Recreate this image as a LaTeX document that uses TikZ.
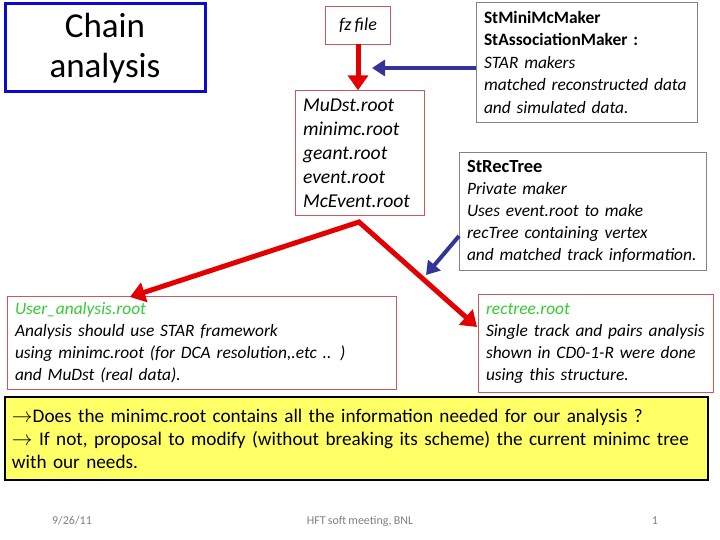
\documentclass[tikz,border=0pt]{standalone}
\usepackage{fontspec}
\setmainfont[WordSpace=0.8]{Carlito}
\usepackage{amsmath, amssymb}
\usepackage{tikz}
\usetikzlibrary{arrows.meta}
\definecolor{bred}{RGB}{200,90,90}
\definecolor{rred}{RGB}{228,0,0}
\definecolor{bblue}{RGB}{10,10,210}
\definecolor{dblue}{RGB}{51,51,153}
\definecolor{bgray}{RGB}{128,128,150}
\definecolor{tgreen}{RGB}{51,204,51}
\definecolor{yfill}{RGB}{255,255,102}

\begin{document}
\begin{tikzpicture}[x=1pt, y=-1pt,
         titlebox/.style={
         % The shape:
         rectangle,
         % The border
         line width=3pt, draw=bblue,
         % Font
         font=\fontsize{35}{40}\selectfont, align=center},
         filebox/.style={
         rectangle, draw=bred, thin, fill=white,
         align=left, inner xsep=8pt, inner ysep=0pt,
         font=\itshape\fontsize{17.4}{22}\selectfont},
         makerbox/.style={filebox, draw=bgray},
         notebox/.style={
         rectangle, line width=2.5pt, draw=black, fill=yfill,
         align=left, inner xsep=7pt, inner ysep=0pt,
         font=\fontsize{19.2}{23}\selectfont},
         foot/.style={text=gray, font=\fontsize{12}{14}\selectfont},
         redarrow/.style={draw=rred, line width=5pt, line join=miter},
         bluearrow/.style={draw=dblue, line width=4pt,
         -{Triangle[width=16pt,length=13pt]}}]
   \useasboundingbox (0,0) rectangle (720,540);

   % Title
   \node[titlebox, minimum width=200pt, minimum height=88pt] (title) at (105,48) {Chain\\analysis};

   % Files
   \node[filebox, minimum width=65pt, minimum height=38pt, align=center,
         font=\itshape\fontsize{18}{22}\selectfont] (fz) at (358,25) {fz file};
   \node[filebox, text width=113pt, minimum height=125pt,
         font=\itshape\fontsize{19.6}{24}\selectfont] (mudst) at (359.5,153)
         {MuDst.root\\minimc.root\\geant.root\\event.root\\McEvent.root};
   \node[filebox, text width=373pt, minimum height=93pt] (user) at (201.5,342.5)
         {\textcolor{tgreen}{User\_analysis.root}\\Analysis should use STAR framework\\
          using minimc.root (for DCA resolution,.etc .. )\\and MuDst (real data).};
   \node[filebox, text width=219pt, minimum height=98pt] (rectree) at (595.5,343)
         {\textcolor{tgreen}{rectree.root}\\Single track and pairs analysis\\
          shown in CD0-1-R were done\\using this structure.};

   % Makers
   \node[makerbox, text width=205pt, minimum height=120pt,
         font=\itshape\fontsize{17.4}{22.5}\selectfont] (minimc) at (586.5,62)
         {\textbf{\upshape StMiniMcMaker}\\\textbf{\upshape StAssociationMaker :}\\
          STAR makers\\matched reconstructed data\\and simulated data.};
   \node[makerbox, text width=231pt, minimum height=118pt] (strectree) at (582.5,211.5)
         {{\upshape\bfseries\fontsize{18.5}{22}\selectfont StRecTree}\\Private maker\\
          Uses event.root to make\\recTree containing vertex\\and matched track information.};

   % Question
   \node[notebox, text width=689pt, minimum height=83pt] (note) at (356.5,438.5)
         {$\rightarrow$Does the minimc.root contains all the information needed for our analysis ?\\
          $\rightarrow$ If not, proposal to modify (without breaking its scheme) the current minimc tree\\
          with our needs.};

   % Footer
   \node[foot] (date) at (72,521) {9/26/11};
   \node[foot] (meeting) at (360,521) {HFT soft meeting, BNL};
   \node[foot] (page) at (655,521) {1};

   % Arrows
   \coordinate (mctip) at (372,68);
   \coordinate (split) at (359,222);
   \coordinate (usertip) at (130,297);
   \coordinate (rectip) at (477,327);
   \coordinate (rtstart) at (459,236);
   \coordinate (rttip) at (426,275);
   \draw[redarrow, -{Triangle[width=20pt,length=15pt]}] (fz.south) -- (fz.south |- mudst.north);
   \draw[redarrow, {Triangle[width=20pt,length=15pt]}-{Triangle[width=20pt,length=15pt]}]
         (usertip) -- (split) -- (rectip);
   \draw[bluearrow] (minimc.west |- mctip) -- (mctip);
   \draw[bluearrow] (rtstart) -- (rttip);
\end{tikzpicture}
\end{document}
